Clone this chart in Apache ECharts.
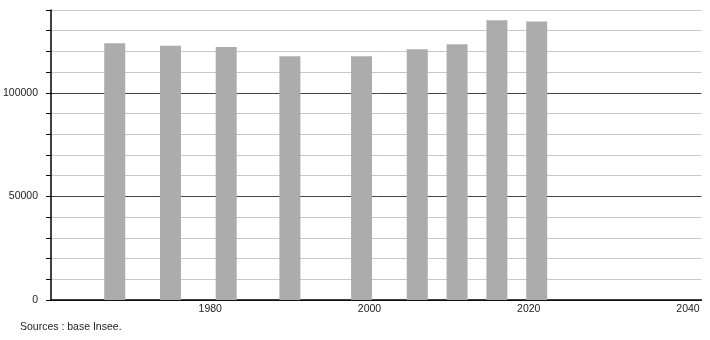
<!DOCTYPE html>
<html>
<head>
<meta charset="utf-8">
<script src="https://cdn.jsdelivr.net/npm/echarts@6/dist/echarts.min.js"></script>
<style>
html,body{margin:0;padding:0;background:#fff;}
#chart{width:710px;height:340px;}
</style>
</head>
<body>
<div id="chart"></div>
<script>
const years = [1968, 1975, 1982, 1990, 1999, 2006, 2011, 2016, 2021];
const population = [124000, 122700, 122100, 117700, 117700, 121100, 123500, 135000, 134500];
const xTickLabels = [1980, 2000, 2020, 2040];
const yTickLabels = [0, 50000, 100000];
const sourceText = 'Sources : base Insee.';

const chart = echarts.init(document.getElementById('chart'), null, {renderer: 'canvas'});
const font = 'Liberation Sans, Arial, sans-serif';
chart.setOption({
  animation: false,
  backgroundColor: '#ffffff',
  grid: {left: 50, right: 8.5, top: 10, bottom: 40, containLabel: false},
  xAxis: {
    type: 'value',
    min: 1960,
    max: 2041.7,
    interval: 20,
    axisLine: {show: true, onZero: false, lineStyle: {color: '#000', width: 1.5}},
    axisTick: {show: false},
    splitLine: {show: false},
    axisLabel: {
      color: '#222', fontFamily: font, fontSize: 10.5, margin: 4,
      showMinLabel: true, showMaxLabel: true,
      formatter: v => xTickLabels.includes(v) ? String(v) : ''
    }
  },
  yAxis: {
    type: 'value',
    min: 0,
    max: 140000,
    interval: 10000,
    axisLine: {show: true, lineStyle: {color: '#000', width: 1.5}},
    axisTick: {show: true, length: 5, lineStyle: {color: '#000', width: 1}},
    splitLine: {show: true, lineStyle: {color: ['#444', '#c8c8c8', '#c8c8c8', '#c8c8c8', '#c8c8c8'], width: 1}},
    axisLabel: {
      color: '#222', fontFamily: font, fontSize: 10.5, margin: 13,
      formatter: v => yTickLabels.includes(v) ? String(v) : ''
    }
  },
  series: [{
    type: 'bar',
    data: years.map((y, i) => [y, population[i]]),
    barWidth: 21,
    itemStyle: {color: '#acacac'},
    z: 3
  }],
  graphic: [{
    type: 'text',
    left: 20,
    top: 322,
    style: {text: sourceText, fill: '#222', font: '10.5px ' + font}
  }]
});
</script>
</body>
</html>
